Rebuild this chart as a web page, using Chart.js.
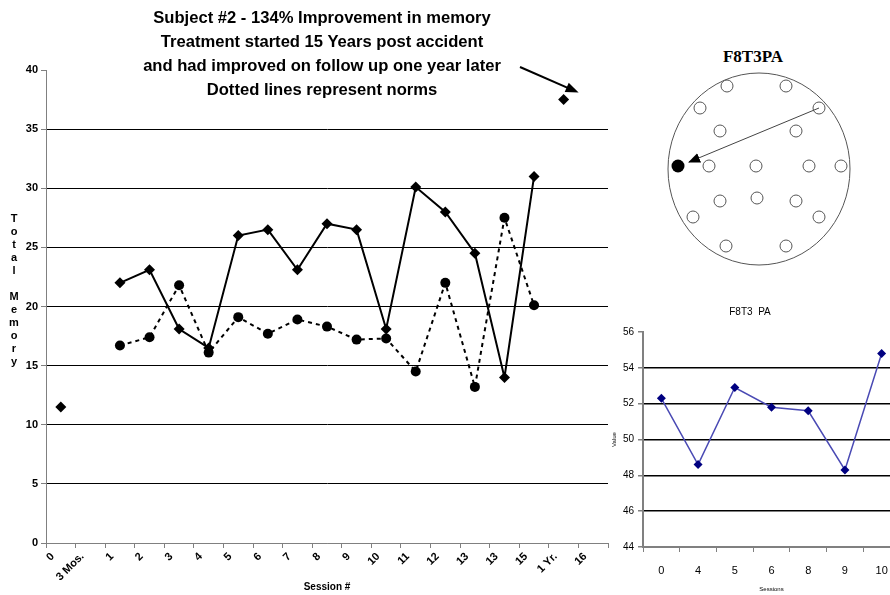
<!DOCTYPE html>
<html>
<head>
<meta charset="utf-8">
<script src="https://cdn.jsdelivr.net/npm/chart.js@4.4.1/dist/chart.umd.min.js"></script>
<style>
  html, body { margin: 0; padding: 0; background: #fff; width: 890px; height: 595px; overflow: hidden; position: relative; }
  canvas { position: absolute; }
  #mainCanvas { left: 0; top: 0; }
  #smallCanvas { left: 600px; top: 290px; }
  #headline {
    position: absolute; left: 0; top: 6px; width: 644px; text-align: center;
    font: bold 16.6px "Liberation Sans", Arial, sans-serif; line-height: 24px; color: #000;
  }
  #yTitle {
    position: absolute; left: 6px; top: 212px; width: 16px; text-align: center;
    font: bold 11px "Liberation Sans", Arial, sans-serif; line-height: 13px; color: #000;
  }
  #montage { position: absolute; left: 640px; top: 40px; }
  #montageTitle {
    position: absolute; left: 690px; top: 47px; width: 126px; text-align: center;
    font: bold 17px "Liberation Serif", "Times New Roman", serif; color: #000;
  }
</style>
</head>
<body>
<canvas id="mainCanvas" width="620" height="595"></canvas>
<canvas id="smallCanvas" width="310" height="305"></canvas>

<div id="headline">
  Subject #2 - 134% Improvement in memory<br>
  Treatment started 15 Years post accident<br>
  and had improved on follow up one year later<br>
  Dotted lines represent norms
</div>

<div id="yTitle">T<br>o<br>t<br>a<br>l<br>&nbsp;<br>M<br>e<br>m<br>o<br>r<br>y</div>

<div id="montageTitle">F8T3PA</div>
<svg id="montage" width="250" height="235" viewBox="640 40 250 235">
  <defs>
    <marker id="tip" markerWidth="12" markerHeight="10" refX="11" refY="5" orient="auto" markerUnits="userSpaceOnUse">
      <path d="M0,0 L12,5 L0,10 z" fill="#000"/>
    </marker>
  </defs>
  <ellipse cx="759" cy="169" rx="91" ry="96" fill="none" stroke="#555" stroke-width="1"/>
  <g fill="#fff" stroke="#555" stroke-width="1">
    <circle cx="727" cy="86" r="6"/><circle cx="786" cy="86" r="6"/>
    <circle cx="700" cy="108" r="6"/><circle cx="819" cy="108" r="6"/>
    <circle cx="720" cy="131" r="6"/><circle cx="796" cy="131" r="6"/>
    <circle cx="709" cy="166" r="6"/><circle cx="756" cy="166" r="6"/>
    <circle cx="809" cy="166" r="6"/><circle cx="841" cy="166" r="6"/>
    <circle cx="720" cy="201" r="6"/><circle cx="757" cy="198" r="6"/><circle cx="796" cy="201" r="6"/>
    <circle cx="693" cy="217" r="6"/><circle cx="819" cy="217" r="6"/>
    <circle cx="726" cy="246" r="6"/><circle cx="786" cy="246" r="6"/>
  </g>
  <circle cx="678" cy="166" r="6.5" fill="#000"/>
  <line x1="819" y1="108" x2="689" y2="162" stroke="#444" stroke-width="1" marker-end="url(#tip)"/>
</svg>

<script>
// Session categories along the main x axis
const sessionLabels = ['0', '3 Mos.', '1', '2', '3', '4', '5', '6', '7', '8', '9', '10', '11', '12', '13', '13', '15', '1 Yr.', '16'];
// Total memory score per session (solid line)
const totalMemory = [null, null, 22, 23.1, 18.1, 16.5, 26, 26.5, 23.1, 27, 26.5, 18.1, 30.1, 28, 24.5, 14, 31, null, null];
// Norm values per session (dotted line)
const normValues = [null, null, 16.7, 17.4, 21.8, 16.1, 19.1, 17.7, 18.9, 18.3, 17.2, 17.3, 14.5, 22, 13.2, 27.5, 20.1, null, null];
// Baseline and one-year follow-up scores (unconnected markers)
const baselineFollowUp = [11.5, null, null, null, null, null, null, null, null, null, null, null, null, null, null, null, null, 37.5, null];
// Main y axis range
const memoryTicks = { min: 0, max: 40, step: 5 };

// F8T3 PA inset
const insetSessions = ['0', '4', '5', '6', '8', '9', '10'];
const insetValues = [52.3, 48.6, 52.9, 51.8, 51.6, 48.3, 54.8];
const insetTicks = { min: 44, max: 56, step: 2 };

Chart.defaults.font.family = '"Liberation Sans", Arial, sans-serif';
Chart.defaults.color = '#000';

const narrowFont = '"Liberation Sans Narrow", "Arial Narrow", "Liberation Sans", Arial, sans-serif';

// Arrow from the headline to the follow-up marker
const followUpArrow = {
  id: 'followUpArrow',
  afterDatasetsDraw(chart) {
    const x = chart.scales.x, y = chart.scales.y;
    const tipX = x.getPixelForValue(17) + 15;
    const tipY = y.getPixelForValue(37.5) - 7;
    const fromX = 520, fromY = 67;
    const ctx = chart.ctx;
    const ang = Math.atan2(tipY - fromY, tipX - fromX);
    ctx.save();
    ctx.strokeStyle = '#000';
    ctx.fillStyle = '#000';
    ctx.lineWidth = 2;
    ctx.beginPath();
    ctx.moveTo(fromX, fromY);
    ctx.lineTo(tipX - 10 * Math.cos(ang), tipY - 10 * Math.sin(ang));
    ctx.stroke();
    ctx.beginPath();
    ctx.moveTo(tipX, tipY);
    ctx.lineTo(tipX - 13 * Math.cos(ang) + 5 * Math.sin(ang), tipY - 13 * Math.sin(ang) - 5 * Math.cos(ang));
    ctx.lineTo(tipX - 13 * Math.cos(ang) - 5 * Math.sin(ang), tipY - 13 * Math.sin(ang) + 5 * Math.cos(ang));
    ctx.closePath();
    ctx.fill();
    ctx.restore();
  }
};

new Chart(document.getElementById('mainCanvas'), {
  type: 'line',
  data: {
    labels: sessionLabels,
    datasets: [
      {
        label: 'Total Memory',
        data: totalMemory,
        borderColor: '#000',
        backgroundColor: '#000',
        borderWidth: 2,
        pointStyle: 'rectRot',
        pointRadius: 5.5,
        pointBorderWidth: 0,
        tension: 0,
        spanGaps: false
      },
      {
        label: 'Norms',
        data: normValues,
        borderColor: '#000',
        backgroundColor: '#000',
        borderWidth: 2,
        borderDash: [4, 4],
        pointStyle: 'circle',
        pointRadius: 5,
        pointBorderWidth: 0,
        tension: 0
      },
      {
        label: 'Baseline / follow-up',
        data: baselineFollowUp,
        showLine: false,
        backgroundColor: '#000',
        borderColor: '#000',
        pointStyle: 'rectRot',
        pointRadius: 5.5,
        pointBorderWidth: 0
      }
    ]
  },
  options: {
    responsive: false,
    animation: false,
    devicePixelRatio: 1,
    layout: { padding: { top: 70, right: 12, left: 0, bottom: 0 } },
    plugins: { legend: { display: false }, tooltip: { enabled: false } },
    scales: {
      x: {
        offset: true,
        afterFit(s) { s.height = 52; },
        grid: { offset: true, drawOnChartArea: false, drawTicks: true, tickLength: 5, tickColor: '#808080' },
        border: { color: '#808080', width: 1 },
        ticks: { autoSkip: false, minRotation: 45, maxRotation: 45, padding: 2, labelOffset: -8, font: { size: 11, weight: 'bold' } },
        title: { display: true, text: 'Session #', font: { size: 10, weight: 'bold' }, padding: { top: 0, bottom: 2 } }
      },
      y: {
        min: memoryTicks.min,
        max: memoryTicks.max,
        afterFit(s) { s.width = 46; },
        grid: {
          color: (c) => c.tick && c.tick.value === memoryTicks.max ? 'rgba(0,0,0,0)' : (c.tick && c.tick.value === 0 ? '#808080' : '#000'),
          tickColor: '#808080',
          tickLength: 5
        },
        border: { color: '#808080', width: 1 },
        ticks: { stepSize: memoryTicks.step, padding: 3, font: { size: 11, weight: 'bold' } }
      }
    }
  },
  plugins: [followUpArrow]
});

new Chart(document.getElementById('smallCanvas'), {
  type: 'line',
  data: {
    labels: insetSessions,
    datasets: [{
      label: 'F8T3 PA',
      data: insetValues,
      borderColor: '#4a4ab4',
      backgroundColor: '#000080',
      borderWidth: 1.5,
      pointStyle: 'rectRot',
      pointRadius: 4.5,
      pointBorderWidth: 0,
      tension: 0
    }]
  },
  options: {
    responsive: false,
    animation: false,
    devicePixelRatio: 1,
    layout: { padding: { top: 0, right: 10, left: 0, bottom: 0 } },
    plugins: {
      legend: { display: false },
      tooltip: { enabled: false },
      title: {
        display: true,
        text: 'F8T3  PA',
        font: { family: narrowFont, size: 10, weight: 'normal' },
        lineHeight: 1.2,
        padding: { top: 16, bottom: 14 }
      }
    },
    scales: {
      x: {
        offset: true,
        afterFit(s) { s.height = 48; },
        grid: { offset: true, drawOnChartArea: false, tickLength: 5, tickColor: '#808080' },
        border: { color: '#808080', width: 2 },
        ticks: { autoSkip: false, maxRotation: 0, padding: 12, font: { family: narrowFont, size: 11 } },
        title: { display: true, text: 'Sessions', font: { size: 6 }, padding: { top: 0, bottom: 2 } }
      },
      y: {
        min: insetTicks.min,
        max: insetTicks.max,
        afterFit(s) { s.width = 43; },
        grid: {
          color: (c) => c.tick && c.tick.value === insetTicks.max ? 'rgba(0,0,0,0)' : (c.tick && c.tick.value === insetTicks.min ? '#808080' : '#000'),
          lineWidth: 1.5,
          tickColor: '#808080',
          tickLength: 5
        },
        border: { color: '#808080', width: 2 },
        ticks: { stepSize: insetTicks.step, padding: 4, font: { family: narrowFont, size: 10 } },
        title: { display: true, text: 'Value', font: { size: 6 }, padding: { top: 11, bottom: 0 } }
      }
    }
  }
});
</script>
</body>
</html>
